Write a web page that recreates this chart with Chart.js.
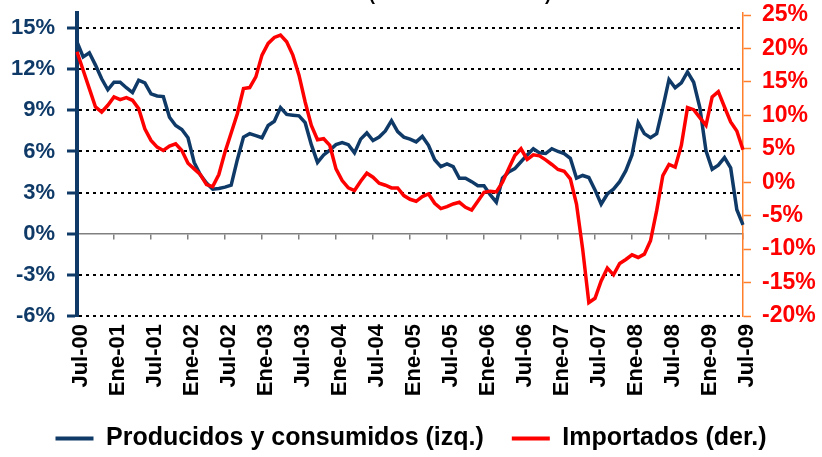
<!DOCTYPE html>
<html>
<head>
<meta charset="utf-8">
<script src="https://cdn.jsdelivr.net/npm/chart.js@4.4.1/dist/chart.umd.min.js"></script>
<style>
  html, body { margin: 0; padding: 0; background: #fff; }
  #wrap { width: 822px; height: 457px; }
</style>
</head>
<body>
<div id="wrap"><canvas id="chart" width="822" height="457"></canvas></div>
<script>
// Months from Jul-00 to Jul-09
const monthNames = ['Ene', 'Feb', 'Mar', 'Abr', 'May', 'Jun', 'Jul', 'Ago', 'Sep', 'Oct', 'Nov', 'Dic'];
const startYear = 2000;
const startMonth = 6; // Jul
const monthCount = 109;

// Producidos y consumidos (izq.), % anual
const producidos = [
  14.0, 12.9, 13.2, 12.3, 11.3, 10.5, 11.05, 11.05, 10.65, 10.3,
  11.2, 11.0, 10.2, 10.05, 10.0, 8.5, 7.9, 7.6, 7.0, 5.2,
  4.3, 3.7, 3.25, 3.3, 3.4, 3.55, 5.4, 7.05, 7.3, 7.15,
  7.0, 7.9, 8.2, 9.2, 8.7, 8.65, 8.6, 8.1, 6.5, 5.2,
  5.75, 6.1, 6.5, 6.65, 6.5, 5.9, 6.9, 7.35, 6.8, 7.05,
  7.5, 8.25, 7.45, 7.05, 6.9, 6.7, 7.1, 6.45, 5.4, 4.9,
  5.1, 4.9, 4.05, 4.05, 3.8, 3.5, 3.5, 2.85, 2.3, 4.05,
  4.5, 4.75, 5.25, 5.75, 6.2, 5.9, 5.85, 6.2, 6.0, 5.85,
  5.5, 4.05, 4.25, 4.1, 3.2, 2.15, 2.9, 3.25, 3.8, 4.6,
  5.75, 8.1, 7.3, 7.0, 7.3, 9.2, 11.25, 10.65, 11.0, 11.8,
  11.05, 9.2, 6.05, 4.7, 5.0, 5.55, 4.8, 1.75, 0.65
];

// Importados (der.), % anual
const importados = [
  19.5, 16.75, 14.0, 11.25, 10.5, 11.5, 12.75, 12.35, 12.65, 12.25,
  11.0, 8.0, 6.25, 5.25, 4.75, 5.4, 5.75, 4.75, 2.85, 2.0,
  1.15, -0.35, -0.65, 1.15, 4.5, 7.35, 10.25, 14.0, 14.15, 15.75,
  19.0, 20.75, 21.65, 22.0, 21.0, 19.0, 16.0, 12.0, 8.5, 6.35,
  6.5, 5.5, 2.0, 0.25, -0.85, -1.25, 0.15, 1.35, 0.75, -0.15,
  -0.45, -0.85, -0.85, -2.0, -2.55, -2.85, -2.15, -1.75, -3.15, -3.95,
  -3.65, -3.25, -3.0, -3.75, -4.15, -2.85, -1.5, -1.35, -1.45, 0.0,
  2.0, 4.0, 5.0, 3.4, 4.1, 3.95, 3.35, 2.65, 1.9, 1.65,
  0.5, -3.25, -10.0, -18.0, -17.35, -14.75, -12.85, -13.85, -12.15, -11.55,
  -10.85, -11.25, -10.75, -8.75, -4.25, 1.0, 2.65, 2.25, 5.5, 11.15,
  10.85, 9.65, 8.5, 12.75, 13.55, 11.25, 9.0, 7.65, 4.85
];

const leftTicks = [-6, -3, 0, 3, 6, 9, 12, 15];
const rightTicks = [-20, -15, -10, -5, 0, 5, 10, 15, 20, 25];

const labels = [];
for (let i = 0; i < monthCount; i++) {
  const m = (startMonth + i) % 12;
  const y = startYear + Math.floor((startMonth + i) / 12);
  labels.push(monthNames[m] + '-' + String(y % 100).padStart(2, '0'));
}

const blue = '#0f3a68';
const red = '#ff0000';
const orange = '#ff7f2a';
const fontFamily = '"Liberation Sans", Arial, sans-serif';

// title sits mostly above the picture, only its bottom edge shows
const topTitle = {
  id: 'topTitle',
  afterDraw(chart) {
    const ctx = chart.ctx;
    ctx.save();
    ctx.font = 'bold 18px ' + fontFamily;
    ctx.fillStyle = '#000';
    ctx.textAlign = 'center';
    ctx.textBaseline = 'alphabetic';
    ctx.fillText('(variación interanual)', 460, -0.5);
    ctx.restore();
  }
};

new Chart(document.getElementById('chart'), {
  type: 'line',
  data: {
    labels: labels,
    datasets: [
      {
        label: 'Producidos y consumidos (izq.)',
        data: producidos,
        borderColor: blue,
        backgroundColor: blue,
        borderWidth: 3.5,
        pointRadius: 0,
        tension: 0,
        yAxisID: 'y',
        order: 1
      },
      {
        label: 'Importados (der.)',
        data: importados,
        borderColor: red,
        backgroundColor: red,
        borderWidth: 3.5,
        pointRadius: 0,
        tension: 0,
        yAxisID: 'y1',
        order: 0
      }
    ]
  },
  options: {
    responsive: false,
    animation: false,
    layout: {
      padding: { left: 0, right: 0, top: 13, bottom: -4 }
    },
    scales: {
      x: {
        type: 'category',
        position: 'bottom',
        offset: false,
        grid: { display: false, drawTicks: false },
        border: { display: false },
        afterFit: function(scale) {
          scale.height = 82;
        },
        ticks: {
          autoSkip: false,
          maxRotation: 90,
          minRotation: 90,
          padding: 8,
          labelOffset: 4,
          color: '#000',
          font: { family: fontFamily, size: 22, weight: 'bold' },
          callback: function(value, index) {
            return index % 6 === 0 ? labels[index] : '';
          }
        }
      },
      xZero: {
        type: 'category',
        position: { y: 0 },
        offset: false,
        grid: {
          drawOnChartArea: false,
          tickLength: 5,
          lineWidth: 1.5,
          color: function(ctx) {
            return ctx.index % 6 === 0 ? '#808080' : 'rgba(0,0,0,0)';
          }
        },
        border: { color: '#808080', width: 1.5 },
        ticks: { display: false, autoSkip: false }
      },
      y: {
        position: 'left',
        min: -6,
        max: 16.1,
        afterBuildTicks: function(scale) {
          scale.ticks = leftTicks.map(v => ({ value: v }));
        },
        afterFit: function(scale) {
          scale.width = 77;
          scale.paddingTop = 0;
          scale.paddingBottom = 0;
        },
        grid: {
          lineWidth: 2,
          color: function(ctx) {
            return ctx.tick && ctx.tick.value === 0 ? 'rgba(0,0,0,0)' : '#000';
          },
          tickColor: blue,
          tickWidth: 3,
          tickLength: 10
        },
        border: { color: blue, width: 4, dash: [3, 4] },
        ticks: {
          color: blue,
          padding: 12,
          autoSkip: false,
          font: { family: fontFamily, size: 22, weight: 'bold' },
          callback: function(value) {
            return value + '%';
          }
        }
      },
      y1: {
        position: 'right',
        min: -20,
        max: 25.3,
        afterBuildTicks: function(scale) {
          scale.ticks = rightTicks.map(v => ({ value: v }));
        },
        afterFit: function(scale) {
          scale.width = 79;
          scale.paddingTop = 0;
          scale.paddingBottom = 0;
        },
        grid: {
          drawOnChartArea: false,
          tickColor: orange,
          tickWidth: 1.5,
          tickLength: 8
        },
        border: { color: orange, width: 1.5 },
        ticks: {
          color: red,
          padding: 11,
          autoSkip: false,
          font: { family: fontFamily, size: 23, weight: 'bold' },
          callback: function(value) {
            return value + '%';
          }
        }
      }
    },
    plugins: {
      title: { display: false },
      tooltip: { enabled: false },
      legend: {
        position: 'bottom',
        labels: {
          boxWidth: 38,
          boxHeight: 4,
          padding: 28,
          color: '#000',
          font: { family: fontFamily, size: 25, weight: 'bold' },
          sort: function(a, b) {
            return a.datasetIndex - b.datasetIndex;
          },
          generateLabels: function(chart) {
            const items = Chart.defaults.plugins.legend.labels.generateLabels(chart);
            items.forEach(item => { item.lineWidth = 0; });
            return items;
          }
        }
      }
    }
  },
  plugins: [topTitle]
});
</script>
</body>
</html>
